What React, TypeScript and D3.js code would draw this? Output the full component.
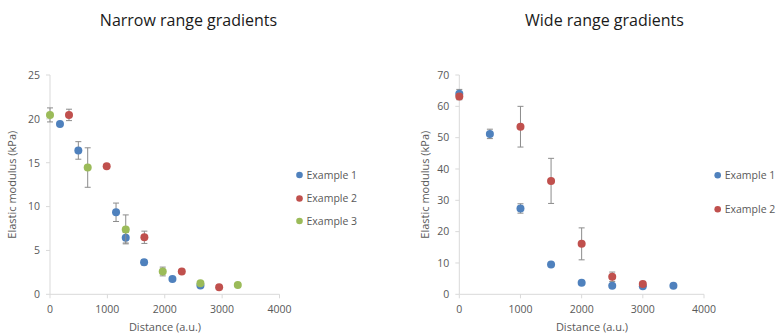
import React from "react";
import * as d3 from "d3";

// ---- Data ----
const narrowEx1X = [174, 494, 1151, 1320, 1640, 2134, 2622];
const narrowEx1Y = [19.4, 16.4, 9.35, 6.45, 3.65, 1.75, 1.0];
const narrowEx1E = [0.2, 1.0, 1.05, 0.6, 0.3, 0.1, 0.1];

const narrowEx2X = [331, 988, 1645, 2297, 2948];
const narrowEx2Y = [20.45, 14.6, 6.5, 2.6, 0.8];
const narrowEx2E = [0.65, 0.2, 0.7, 0.2, 0.1];

const narrowEx3X = [0, 657, 1320, 1965, 2622, 3273];
const narrowEx3Y = [20.45, 14.45, 7.4, 2.6, 1.25, 1.05];
const narrowEx3E = [0.8, 2.25, 1.65, 0.5, 0.2, 0.1];

const wideEx1X = [0, 500, 1000, 1500, 2000, 2500, 3000, 3500];
const wideEx1Y = [64.0, 51.2, 27.4, 9.5, 3.7, 2.7, 2.6, 2.7];
const wideEx1E = [1.4, 1.5, 1.5, 0.5, 0.3, 0.3, 0.3, 0.3];

const wideEx2X = [0, 1000, 1500, 2000, 2500, 3000];
const wideEx2Y = [63.1, 53.5, 36.2, 16.1, 5.6, 3.3];
const wideEx2E = [1.0, 6.5, 7.2, 5.1, 1.5, 0.8];

const xTicks = [0, 1000, 2000, 3000, 4000];
const narrowYTicks = [0, 5, 10, 15, 20, 25];
const wideYTicks = [0, 10, 20, 30, 40, 50, 60, 70];

const seriesNames = ["Example 1", "Example 2", "Example 3"];
const colors = ["#4f81bd", "#c0504d", "#9bbb59"];

const FONT = "'Open Sans', 'Noto Sans', sans-serif";
const TEXT = "#595959";
const AXIS = "#d9d9d9";
const ERR = "#8c8c8c";

type Series = { x: number[]; y: number[]; e: number[] };

function Panel(props: {
  x0: number; x1: number; y0: number; y1: number;
  yMax: number; yTicks: number[]; series: Series[];
  title: string; titleX: number; xTitleX: number; yTitleX: number;
  legendX: number; legendYs: number[];
}) {
  const { x0, x1, y0, y1, yMax, yTicks, series } = props;
  const xs = d3.scaleLinear().domain([0, 4000]).range([x0, x1]);
  const ys = d3.scaleLinear().domain([0, yMax]).range([y1, y0]);
  return (
    <g>
      <text x={props.titleX} y={26} textAnchor="middle" fontSize={16} fill="#1a1a1a" fontFamily={FONT}>{props.title}</text>
      {/* axes */}
      <line x1={x0} x2={x0} y1={ys(yMax)} y2={ys(0)} stroke={AXIS} strokeWidth={1} />
      <line x1={x0} x2={xs(4000)} y1={ys(0)} y2={ys(0)} stroke={AXIS} strokeWidth={1} />
      {yTicks.map((t) => (
        <g key={"y" + t}>
          <line x1={x0 - 4} x2={x0} y1={ys(t)} y2={ys(t)} stroke={AXIS} />
          <text x={x0 - 10} y={ys(t) + 3.8} textAnchor="end" fontSize={10.5} fill={TEXT} fontFamily={FONT}>{t}</text>
        </g>
      ))}
      {xTicks.map((t) => (
        <g key={"x" + t}>
          <line x1={xs(t)} x2={xs(t)} y1={ys(0)} y2={ys(0) + 4} stroke={AXIS} />
          <text x={xs(t)} y={313} textAnchor="middle" fontSize={10.5} fill={TEXT} fontFamily={FONT}>{t}</text>
        </g>
      ))}
      <text x={props.xTitleX} y={331} textAnchor="middle" fontSize={11} fill={TEXT} fontFamily={FONT}>Distance (a.u.)</text>
      <text transform={`translate(${props.yTitleX},${(y0 + y1) / 2}) rotate(-90)`} textAnchor="middle" fontSize={11} fill={TEXT} fontFamily={FONT}>Elastic modulus (kPa)</text>
      {series.map((s, si) => (
        <g key={"s" + si}>
          {s.x.map((xv, i) => {
            const cx = xs(xv);
            const top = ys(s.y[i] + s.e[i]);
            const bot = ys(s.y[i] - s.e[i]);
            return (
              <g key={i}>
                <line x1={cx} x2={cx} y1={top} y2={bot} stroke={ERR} strokeWidth={1} />
                <line x1={cx - 3} x2={cx + 3} y1={top} y2={top} stroke={ERR} strokeWidth={1} />
                <line x1={cx - 3} x2={cx + 3} y1={bot} y2={bot} stroke={ERR} strokeWidth={1} />
              </g>
            );
          })}
          {s.x.map((xv, i) => (
            <circle key={"c" + i} cx={xs(xv)} cy={ys(s.y[i])} r={4} fill={colors[si]} />
          ))}
        </g>
      ))}
      {series.map((_, si) => (
        <g key={"l" + si}>
          <circle cx={props.legendX} cy={props.legendYs[si]} r={3.3} fill={colors[si]} />
          <text x={props.legendX + 7} y={props.legendYs[si] + 3.8} fontSize={10.5} fill={TEXT} fontFamily={FONT}>{seriesNames[si]}</text>
        </g>
      ))}
    </g>
  );
}

export default function App() {
  const narrow: Series[] = [
    { x: narrowEx1X, y: narrowEx1Y, e: narrowEx1E },
    { x: narrowEx2X, y: narrowEx2Y, e: narrowEx2E },
    { x: narrowEx3X, y: narrowEx3Y, e: narrowEx3E },
  ];
  const wide: Series[] = [
    { x: wideEx1X, y: wideEx1Y, e: wideEx1E },
    { x: wideEx2X, y: wideEx2Y, e: wideEx2E },
  ];
  return (
    <svg width={777} height={336} style={{ position: "absolute", left: 0, top: 0, background: "#fff" }}>
      <rect width={777} height={336} fill="#fff" />
      <Panel x0={50} x1={279.5} y0={75} y1={294.3} yMax={25} yTicks={narrowYTicks} series={narrow}
        title="Narrow range gradients" titleX={188.5} xTitleX={165} yTitleX={16}
        legendX={299.5} legendYs={[175, 198.5, 221]} />
      <Panel x0={459.3} x1={704} y0={75} y1={294.3} yMax={70} yTicks={wideYTicks} series={wide}
        title="Wide range gradients" titleX={604.5} xTitleX={592} yTitleX={429}
        legendX={717.7} legendYs={[175.3, 209.3]} />
    </svg>
  );
}
